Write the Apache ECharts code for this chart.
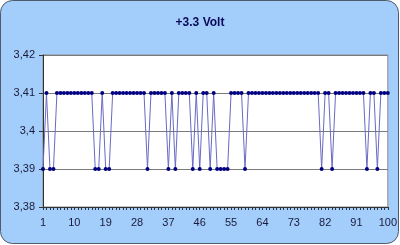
<!DOCTYPE html>
<html>
<head>
<meta charset="utf-8">
<script src="https://cdn.jsdelivr.net/npm/echarts@6/dist/echarts.min.js"></script>
<style>
html,body{margin:0;padding:0;background:#fff;}
#c{width:400px;height:245px;}
</style>
</head>
<body>
<div id="c"></div>
<script>
// Data (samples 1..100)
const categories = Array.from({length: 100}, (_, i) => String(i + 1));
const volts = [
  3.39, 3.41, 3.39, 3.39, 3.41, 3.41, 3.41, 3.41, 3.41, 3.41,
  3.41, 3.41, 3.41, 3.41, 3.41, 3.39, 3.39, 3.41, 3.39, 3.39,
  3.41, 3.41, 3.41, 3.41, 3.41, 3.41, 3.41, 3.41, 3.41, 3.41,
  3.39, 3.41, 3.41, 3.41, 3.41, 3.41, 3.39, 3.41, 3.39, 3.41,
  3.41, 3.41, 3.41, 3.39, 3.41, 3.39, 3.41, 3.41, 3.39, 3.41,
  3.39, 3.39, 3.39, 3.39, 3.41, 3.41, 3.41, 3.41, 3.39, 3.41,
  3.41, 3.41, 3.41, 3.41, 3.41, 3.41, 3.41, 3.41, 3.41, 3.41,
  3.41, 3.41, 3.41, 3.41, 3.41, 3.41, 3.41, 3.41, 3.41, 3.41,
  3.39, 3.41, 3.41, 3.39, 3.41, 3.41, 3.41, 3.41, 3.41, 3.41,
  3.41, 3.41, 3.41, 3.39, 3.41, 3.41, 3.39, 3.41, 3.41, 3.41
];
const yTicks = [3.38, 3.39, 3.40, 3.41, 3.42];

const chart = echarts.init(document.getElementById('c'), null, {renderer: 'canvas'});
const font = 'Liberation Sans, Arial, sans-serif';
chart.setOption({
  animation: false,
  backgroundColor: 'transparent',
  graphic: [{
    type: 'rect', z: -10, silent: true,
    shape: {x: 0.5, y: 0.5, width: 398, height: 243, r: 12},
    style: {fill: '#a3cdfb', stroke: '#505a6a', lineWidth: 1}
  }],
  title: {
    text: '+3.3 Volt', left: 'center', top: 12,
    textStyle: {fontSize: 12, fontWeight: 'bold', color: '#0a0a5a', fontFamily: font}
  },
  grid: {left: 43, right: 12, top: 55, bottom: 38, show: true, backgroundColor: '#ffffff', borderColor: '#8a8a8a', borderWidth: 1},
  xAxis: {
    type: 'category', data: categories, boundaryGap: false,
    axisLine: {lineStyle: {color: '#333333', width: 1}},
    axisTick: {show: true, interval: 0, length: 3, lineStyle: {color: '#333333'}},
    axisLabel: {interval: 8, fontSize: 11, color: '#1a1a3a', fontFamily: font, margin: 10},
    splitLine: {show: false}
  },
  yAxis: {
    type: 'value', min: yTicks[0], max: yTicks[yTicks.length - 1], interval: 0.01,
    axisLine: {show: true, lineStyle: {color: '#333333', width: 1}},
    axisTick: {show: true, length: 4, lineStyle: {color: '#333333'}},
    axisLabel: {fontSize: 11, color: '#1a1a3a', fontFamily: font, margin: 8,
      formatter: v => String(Math.round(v * 100) / 100).replace('.', ',')},
    splitLine: {show: true, lineStyle: {color: '#7a7a7a', width: 1}}
  },
  series: [{
    type: 'line', data: volts,
    symbol: 'circle', symbolSize: 4, showSymbol: true, showAllSymbol: true,
    itemStyle: {color: '#000080'},
    lineStyle: {color: '#6a6ac4', width: 1}
  }]
});
</script>
</body>
</html>
